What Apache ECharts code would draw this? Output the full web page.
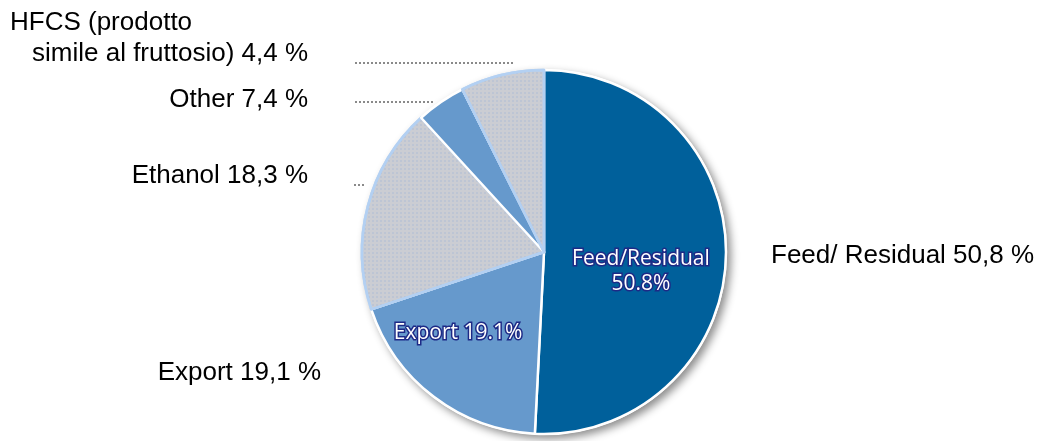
<!DOCTYPE html>
<html>
<head>
<meta charset="utf-8">
<script src="https://cdn.jsdelivr.net/npm/echarts@6/dist/echarts.min.js"></script>
<style>
html,body{margin:0;padding:0;background:#fff;}
#c{width:1043px;height:441px;}
</style>
</head>
<body>
<div id="c"></div>
<script>
const categories = ['Feed/Residual', 'Export', 'Ethanol', 'HFCS', 'Other'];
const values = [50.8, 19.1, 18.3, 4.4, 7.4];
const outerNames = ['Feed/ Residual', 'Export', 'Ethanol', 'HFCS (prodotto\nsimile al fruttosio)', 'Other'];
const innerLabelShown = [true, true, false, false, false];

const sliceColors = ['#00609b', '#6699cc', '#cbcdd3', '#6699cc', '#cbcdd3'];
const sliceBorders = ['#ffffff', '#ffffff', '#b3d0f2', '#ffffff', '#b3d0f2'];

function itFmt(v) { return v.toFixed(1).replace('.', ',') + ' %'; }
function enFmt(v) { return v.toFixed(1) + '%'; }

const CX = 544, CY = 252, R = 182;
const outerFont = '26px "Liberation Sans", Arial, sans-serif';

const chart = echarts.init(document.getElementById('c'), null, {renderer: 'canvas'});

const dotDecal = {
  symbol: 'circle',
  symbolSize: 0.7,
  color: 'rgba(135,170,220,0.55)',
  dashArrayX: [2, 2],
  dashArrayY: [2, 2],
  rotation: 0
};

const pieData = categories.map((c, i) => ({
  name: c,
  value: values[i],
  itemStyle: {
    color: sliceColors[i],
    borderColor: sliceBorders[i],
    borderWidth: 2.5,
    decal: sliceColors[i] === '#cbcdd3' ? dotDecal : undefined
  },
  label: {show: innerLabelShown[i]}
}));

const hfcsLines = outerNames[3].split('\n');
const labelText = (i) => outerNames[i] + ' ' + itFmt(values[i]);
const txtStyle = (t, x, y, align) => ({
  type: 'text', x: x, y: y, silent: true,
  style: {text: t, font: outerFont, fill: '#000', align: align, verticalAlign: 'middle'}
});
const dotted = (x1, y1, x2) => ({
  type: 'line', silent: true,
  shape: {x1: x1, y1: y1, x2: x2, y2: y1},
  style: {stroke: '#8a8a8a', lineWidth: 2, lineDash: [2, 2]}
});

const option = {
  animation: false,
  backgroundColor: '#ffffff',
  graphic: [
    txtStyle(labelText(0), 771, 256, 'left'),
    txtStyle(labelText(1), 321, 373, 'right'),
    txtStyle(labelText(2), 308, 176, 'right'),
    txtStyle(labelText(4), 308, 100, 'right'),
    txtStyle(hfcsLines[0], 10, 23, 'left'),
    txtStyle(hfcsLines[1] + ' ' + itFmt(values[3]), 308, 54, 'right'),
    dotted(355, 63, 513),
    dotted(355, 102, 433),
    dotted(354, 185, 366)
  ],
  series: [
    {
      type: 'pie',
      silent: true,
      center: [CX, CY],
      radius: R + 1,
      label: {show: false},
      labelLine: {show: false},
      data: [{value: 1, itemStyle: {color: '#ffffff', shadowBlur: 8, shadowOffsetX: 4, shadowOffsetY: 4, shadowColor: 'rgba(0,0,0,0.45)'}}],
      z: 1
    },
    {
      type: 'pie',
      silent: true,
      center: [CX, CY],
      radius: R,
      startAngle: 90,
      clockwise: true,
      z: 2,
      label: {
        show: true,
        position: 'inside',
        formatter: (p) => p.dataIndex === 0 ? p.name + '\n' + enFmt(p.value) : p.name + ' ' + enFmt(p.value),
        color: '#ffffff',
        fontFamily: '"Open Sans", sans-serif',
        fontSize: 21,
        lineHeight: 25,
        textBorderColor: '#1d2a86',
        textBorderWidth: 3
      },
      labelLayout: (p) => {
        if (p.dataIndex === 0) return {dx: 3, dy: 17};
        if (p.dataIndex === 1) return {dx: -29, dy: 6};
        return {};
      },
      labelLine: {show: false},
      data: pieData
    }
  ]
};
chart.setOption(option);
</script>
</body>
</html>
